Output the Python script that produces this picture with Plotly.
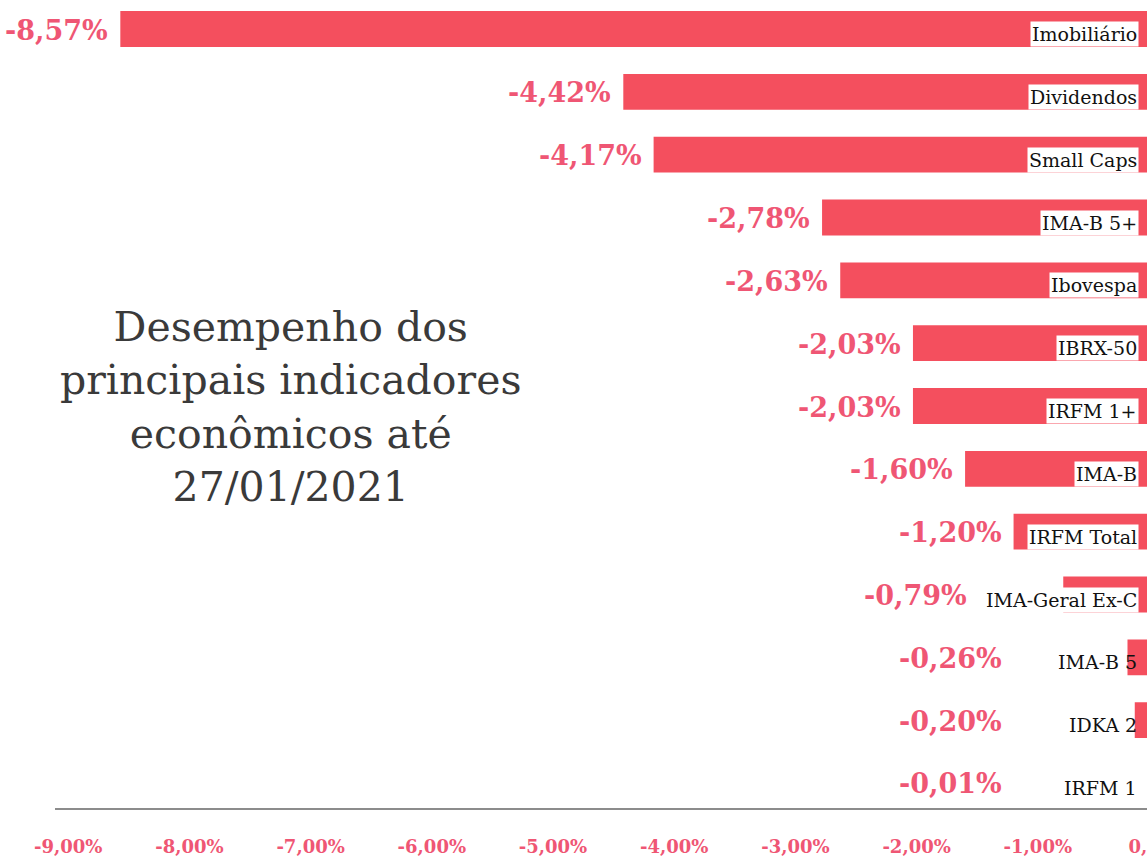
import plotly.graph_objects as go

# ---- data ----
categories = ["Imobiliário", "Dividendos", "Small Caps", "IMA-B 5+", "Ibovespa",
              "IBRX-50", "IRFM 1+", "IMA-B", "IRFM Total", "IMA-Geral Ex-C",
              "IMA-B 5", "IDKA 2", "IRFM 1"]
values = [-8.57, -4.42, -4.17, -2.78, -2.63, -2.03, -2.03, -1.60, -1.20, -0.79,
          -0.26, -0.20, -0.01]
tick_values = [-9, -8, -7, -6, -5, -4, -3, -2, -1, 0]
tick_labels = ["-9,00%", "-8,00%", "-7,00%", "-6,00%", "-5,00%", "-4,00%",
               "-3,00%", "-2,00%", "-1,00%", "0,00%"]
title_text = "Desempenho dos<br>principais indicadores<br>econômicos até<br>27/01/2021"

# ---- style / layout ----
BAR_COLOR = "#F44F5E"
VAL_COLOR = "#EF5674"
SERIF = "DejaVu Serif"
W, H = 1179, 860
ML, MR, MT, MB = 55, 20, 0, 52
PX_PER_UNIT = 121.2
X_MAX = 0
X_MIN = X_MAX - (W - ML - MR) / PX_PER_UNIT
CAT_SIZE = 19
CAT_SHIFT = 20
VAL_GAP = 10
VAL_FLOOR = -1.2


def fmt(v):
    return f"{v:.2f}".replace(".", ",") + "%"


fig = go.Figure(go.Bar(
    x=values, y=categories, orientation="h",
    marker=dict(color=BAR_COLOR, line=dict(width=0)),
    hoverinfo="skip",
))

annotations = []
for cat, v in zip(categories, values):
    est_w = len(cat) * 0.6 * CAT_SIZE
    bar_px = abs(v) * PX_PER_UNIT
    annotations.append(dict(
        x=0, y=cat, xref="x", yref="y", text=cat, showarrow=False,
        xanchor="right", xshift=-CAT_SHIFT, yshift=-5,
        font=dict(family=SERIF, size=CAT_SIZE, color="#111111"),
        bgcolor="white" if bar_px > 40 else "rgba(0,0,0,0)", borderpad=1,
    ))
    label_left = -(CAT_SHIFT + est_w) / PX_PER_UNIT
    vx = min(v, VAL_FLOOR, label_left) if v > VAL_FLOOR - 0.01 else v
    annotations.append(dict(
        x=vx, y=cat, xref="x", yref="y", text=fmt(v), showarrow=False,
        xanchor="right", xshift=-VAL_GAP, yshift=-1,
        font=dict(family=SERIF, size=27, color=VAL_COLOR, weight="bold"),
    ))

annotations.append(dict(
    x=0.213, y=0.496, xref="paper", yref="paper", text=title_text,
    showarrow=False, xanchor="center", yanchor="middle", align="center",
    font=dict(family=SERIF, size=41, color="#3a3a3a"),
))

fig.update_layout(
    width=W, height=H,
    margin=dict(l=ML, r=MR, t=MT, b=MB),
    paper_bgcolor="white", plot_bgcolor="white",
    bargap=0.43, showlegend=False,
    annotations=annotations,
    xaxis=dict(range=[X_MIN, X_MAX], tickvals=tick_values, ticktext=tick_labels,
               showgrid=False, zeroline=False, showline=True,
               linecolor="#8c8c8c", linewidth=1.5, ticks="",
               ticklabelstandoff=22, ticklabeloverflow="allow", automargin=False,
               tickfont=dict(family=SERIF, size=18, color=VAL_COLOR, weight="bold")),
    yaxis=dict(range=[12.398, -0.4616], showticklabels=False, showgrid=False,
               zeroline=False, showline=False, automargin=False),
)

fig.write_html("out.html", config={"displayModeBar": False}, post_script=(
    "document.body.style.margin='0';document.body.style.overflow='hidden';"
    "document.documentElement.style.overflow='hidden';"))
